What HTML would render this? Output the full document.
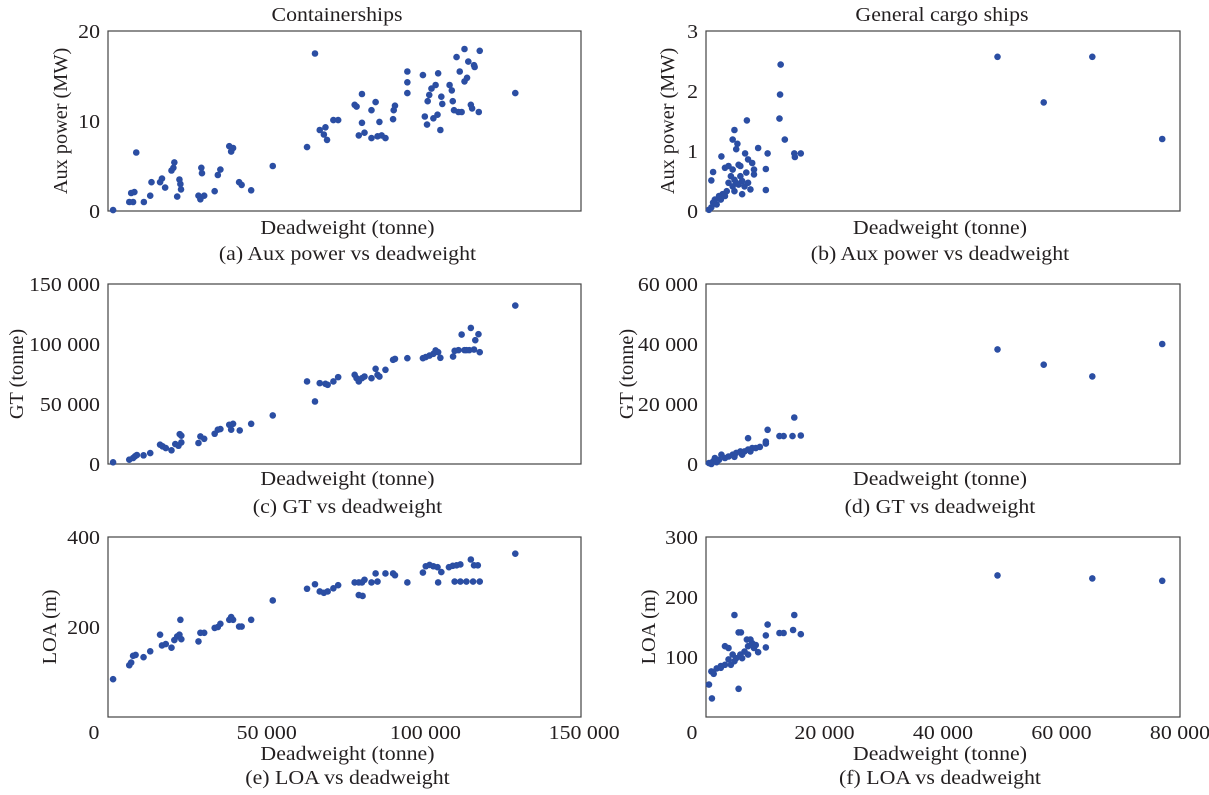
<!DOCTYPE html>
<html><head><meta charset="utf-8"><style>
body{margin:0;background:#fff;}
svg{display:block;font-family:"Liberation Serif",serif;}
text{fill:#231f20;}
</style></head><body>
<svg id="fig" width="1209" height="795" viewBox="0 0 1209 795"></svg>
<script>
// ---- Containerships (deadweight in thousand tonnes) ----
const cAuxDW=[1.6,6.7,7.9,7.3,8.3,8.9,11.3,13.3,13.7,16.4,17,18,20,20.6,20.9,21.8,22.5,22.8,23,28.5,29.1,30.3,29.4,29.6,33.6,34.6,35.4,38.2,39.4,38.8,41.3,42.1,45.1,51.9,62.7,65.2,66.7,68.5,68,69,71,72.5,77.7,78.3,79,80,80,80.8,83,84.3,85.5,83,84.9,86.2,87.4,89.8,90,90.4,94.3,94.3,94.3,99.2,99.8,100.5,100.7,101.2,101.9,102.5,103.2,103.8,104,104.7,105,105.3,107.6,108.3,108.6,109,109.8,110.4,110.8,111.4,112.3,112.3,113.1,113.5,114.3,114.7,115.3,115.5,116.8,117.1,128.3];
const cAux=[0.1,1.0,1.0,2.0,2.1,6.5,1.0,1.7,3.2,3.2,3.6,2.6,4.5,4.8,5.4,1.6,3.5,3.0,2.4,1.7,1.3,1.7,4.8,4.2,2.2,4.0,4.6,7.2,7.0,6.6,3.2,2.9,2.3,5.0,7.1,17.5,9.0,9.3,8.5,7.9,10.1,10.1,11.8,11.6,8.4,13.0,9.8,8.7,11.2,12.1,9.9,8.1,8.3,8.4,8.1,10.2,11.2,11.7,15.5,14.3,13.1,15.1,10.5,9.6,12.2,12.9,13.6,10.3,14.0,10.7,15.3,9.0,12.7,11.9,14.0,13.4,12.2,11.2,17.1,11.0,15.5,11.0,18.0,14.4,14.8,16.6,11.8,11.4,16.2,16.0,11.0,17.8,13.1];
const cGtDW=[1.6,6.7,7.9,8.5,9.1,11.2,13.3,16.4,17.2,18.2,20,21.2,22.2,22.6,23.1,23.1,28.5,29.1,30.3,33.6,34.6,35.4,38.2,39.4,38.8,41.5,45.1,51.9,62.7,65.2,66.7,68.5,69.2,71,72.5,77.7,78.3,79,80,80.8,83,84.3,84.9,85.5,87.4,89.8,90.4,94.3,99.2,100.1,101.3,102.5,103.2,104,104.7,108.7,109.2,110.4,111.4,112.3,112.9,113.8,114.3,115.3,115.7,116.7,117.1,128.3];
const cGt=[1.4,3.6,5,6.4,7.5,7.2,9.1,16.1,14.7,13.3,11.4,16.6,15.2,24.9,23.6,18,17.5,23,21,25.2,28.6,29.1,32.7,33.5,28.6,28,33.5,40.5,68.8,52.1,67.4,66.8,66,68.8,72.4,74.3,71.5,68.8,71.5,72.9,71.5,79.3,74.3,72.9,78.5,86.8,87.6,88.2,88.2,89.1,90.4,91.8,94.6,93.2,88.5,89.5,94.3,94.9,107.9,94.9,94.9,94.9,113.4,95.4,103.2,108.2,93.2,132];
const cLoaDW=[1.6,6.7,7.3,7.9,8.7,11.2,13.3,16.4,17,18.2,20,20.9,21.8,22.5,22.8,23.1,28.5,29.1,30.3,33.6,34.6,35.4,38.2,39.4,38.8,41.3,42.1,45.1,51.9,62.7,65.2,66.7,68,69.2,71,72.5,77.7,79,80,80.8,79,80.2,83,84.3,84.9,87.4,89.8,90.4,94.3,99.2,100.1,101.3,102.5,103.8,104,105,107.4,108.6,109.8,111,109.2,111,112.9,114.3,115.3,116.5,115,117.1,128.3];
const cLoa=[84,115,121,136,138,133,146,183,159,162,154,171,179,183,216,173,168,187,187,198,200,207,216,216,222,201,201,216,259,285,295,279,276,279,286,293,299,299,299,305,271,269,299,319,301,319,319,315,299,321,335,338,335,333,299,322,333,336,337,339,301,301,301,350,337,337,301,301,363];
// ---- General cargo ships ----
const gAuxDW=[49.2,57,65.2,77,12.6,12.5,12.4,13.3,14.9,15,16,6.9,4.8,4.5,5.3,5.1,6.6,8.8,10.4,10.1,10.1,2.6,1.2,0.9,3.2,3.8,4.5,5.5,5.8,7.1,7.8,8.1,6.8,5.8,4.8,3.8,4.2,5.1,6.1,7.1,8.1,7.5,6.5,5.5,4.5,3.5,2.8,2.2,1.5,1.8,0.9,0.5,1.2,2.5,3.2,6.1,4.8];
const gAux=[2.57,1.81,2.57,1.2,2.44,1.94,1.54,1.19,0.96,0.9,0.96,1.51,1.35,1.19,1.12,1.03,0.96,1.05,0.96,0.7,0.35,0.91,0.65,0.51,0.72,0.75,0.69,0.77,0.75,0.86,0.8,0.69,0.64,0.58,0.52,0.47,0.58,0.47,0.5,0.47,0.61,0.36,0.41,0.44,0.41,0.33,0.28,0.25,0.19,0.11,0.06,0.02,0.14,0.19,0.25,0.28,0.33];
const gGtDW=[49.2,57,65.2,77,14.9,10.4,12.4,13.1,14.6,16,10.1,10.1,7.1,0.5,1.2,1.5,2.2,2.6,3.2,3.8,4.5,5.1,5.8,6.5,7.1,7.8,8.4,9.1,4.8,6.1,7.5,1.8,0.9];
const gGt=[38.2,33.1,29.2,40,15.5,11.4,9.3,9.3,9.3,9.5,7.5,6.8,8.6,0.3,0.9,2,1.4,3.1,2,2.5,3.1,3.7,4.2,4.2,4.8,5.3,5.3,5.7,2.4,3.1,4.2,0.6,0];
const gLoaDW=[49.2,65.2,77,4.8,14.9,10.4,14.7,12.4,13.1,16,10.1,10.1,8.8,5.5,5.9,5.5,1,0.5,0.9,1.3,1.8,2.5,3.2,3.8,3.2,3.8,4.5,5.1,5.8,6.5,7.1,7.8,8.4,6.9,7.5,4.8,4.2,6.1,7.1,8.1,2.5];
const gLoa=[236,231,227,170,170,154,145,140,140,138,136,116,108,141,141,47,31,54,76,72,81,82,118,115,87,96,104,98,104,109,118,123,120,129,129,93,87,98,104,115,85];
// tick labels
const leftXTicks=[0,50,100,150];
const rightXTicks=[0,20,40,60,80];
const auxLTicks=[0,10,20], auxRTicks=[0,1,2,3];
const gtLTicks=[0,50,100,150], gtRTicks=[0,20,40,60];
const loaLTicks=[200,400], loaRTicks=[100,200,300];

const svg=document.getElementById('fig');
const NS='http://www.w3.org/2000/svg';
function el(tag,attrs,parent){const e=document.createElementNS(NS,tag);for(const k in attrs)e.setAttribute(k,attrs[k]);(parent||svg).appendChild(e);return e;}
function fmt(v){return v===0?'0':(v>=1000?String(v).replace(/(\d)(?=(\d{3})+$)/g,'$1 '):String(v));}
function txt(s,x,y,attrs,parent,k){const t=el('text',Object.assign({x:x,y:y,'font-size':19.5},attrs||{}),parent);t.textContent=s;
  const w=t.getComputedTextLength();if(w>0){t.setAttribute('textLength',(w*(k||1.12)).toFixed(1));t.setAttribute('lengthAdjust','spacingAndGlyphs');}
  return t;}

function plot(o){
  const g=el('g',{});
  
  
  const X=v=>o.x0+(v/o.xmax)*(o.x1-o.x0);
  const Y=v=>o.y1-(v/o.ymax)*(o.y1-o.y0);
  const box=el('rect',{x:o.x0,y:o.y0,width:o.x1-o.x0,height:o.y1-o.y0,fill:'none',stroke:'#444',"stroke-width":1.2},g);
  
  
  o.yt.forEach(v=>{const t=txt(fmt(v*o.yMul),o.x0-8,Y(v)+7,{'text-anchor':'end'},g);
    
    });
  if(o.xt){o.xt.forEach(v=>{const xx=v===0?X(v)-14:X(v);const t=txt(fmt(v*1000),xx,o.y1+22,{'text-anchor':'middle'},g);
    
    });}
  const yl=txt(o.ylab,0,0,{'text-anchor':'middle',transform:'translate('+o.ylx+','+((o.y0+o.y1)/2)+') rotate(-90)'},g,1.04);
  
  
  const cx=(o.x0+o.x1)/2+o.cdx;
  const xl=txt('Deadweight (tonne)',cx,o.xly,{'text-anchor':'middle'},g);
  
  
  const cap=txt(o.cap,cx,o.capy,{'text-anchor':'middle'},g);
  
  
  o.xs.forEach((v,i)=>{const c=el('circle',{cx:X(v),cy:Y(o.ys[i]),r:3.3,fill:'#2b4ea3'},g);
    
    });
}
const L={x0:108,x1:581,xmax:149,cdx:3}, R={x0:706,x1:1180,xmax:80,cdx:-3};
const rows=[{y0:31,y1:211,xly:234,capy:260},{y0:284,y1:464,xly:485,capy:513},{y0:537,y1:717,xly:760,capy:784}];
plot(Object.assign({},L,rows[0],{name:'plot-a-aux-power-containerships',ymax:20,yt:auxLTicks,yMul:1,xs:cAuxDW,ys:cAux,ylab:'Aux power (MW)',ylx:67,cap:'(a) Aux power vs deadweight'}));
plot(Object.assign({},R,rows[0],{name:'plot-b-aux-power-general-cargo',ymax:3,yt:auxRTicks,yMul:1,xs:gAuxDW,ys:gAux,ylab:'Aux power (MW)',ylx:674,cap:'(b) Aux power vs deadweight'}));
plot(Object.assign({},L,rows[1],{name:'plot-c-gt-containerships',ymax:150,yt:gtLTicks,yMul:1000,xs:cGtDW,ys:cGt,ylab:'GT (tonne)',ylx:23,cap:'(c) GT vs deadweight'}));
plot(Object.assign({},R,rows[1],{name:'plot-d-gt-general-cargo',ymax:60,yt:gtRTicks,yMul:1000,xs:gGtDW,ys:gGt,ylab:'GT (tonne)',ylx:633,cap:'(d) GT vs deadweight'}));
plot(Object.assign({},L,rows[2],{name:'plot-e-loa-containerships',ymax:400,yt:loaLTicks,yMul:1,xs:cLoaDW,ys:cLoa,xt:leftXTicks,ylab:'LOA (m)',ylx:56,cap:'(e) LOA vs deadweight'}));
plot(Object.assign({},R,rows[2],{name:'plot-f-loa-general-cargo',ymax:300,yt:loaRTicks,yMul:1,xs:gLoaDW,ys:gLoa,xt:rightXTicks,ylab:'LOA (m)',ylx:655,cap:'(f) LOA vs deadweight'}));
const t1=txt('Containerships',337,21,{'text-anchor':'middle'});


const t2=txt('General cargo ships',942,21,{'text-anchor':'middle'});


</script>
</body></html>
